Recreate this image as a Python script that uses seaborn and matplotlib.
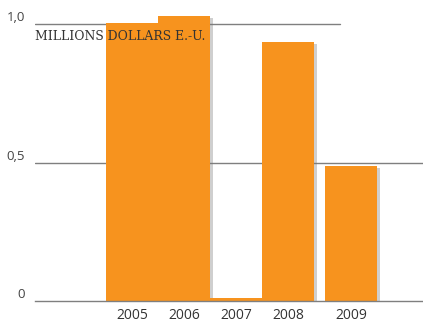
import matplotlib
matplotlib.use("Agg")
import matplotlib.pyplot as plt
import matplotlib.patheffects as pe
import seaborn as sns
import pandas as pd

# data
years = ["2005", "2006", "2007", "2008", "2009"]
values = [1.005, 1.03, 0.01, 0.935, 0.487]
# slot of each bar on the x axis (2009 set apart a little)
slots = [0, 1, 2, 3, 4.22]

y_ticks = [0, 0.5, 1.0]
y_labels = ["0", "0,5", "1,0"]

orange = "#F7931E"
grey_line = "#7f7f7f"

sns.set_theme(style="white")
plt.rcParams["font.family"] = ["Open Sans", "DejaVu Sans"]

df = pd.DataFrame({"slot": slots, "value": values})

fig = plt.figure(figsize=(4.23, 3.21), dpi=100)
ax = fig.add_axes([35 / 423, 20 / 321, 388 / 423, 301 / 321])

# gridlines
ax.axhline(0.5, color=grey_line, lw=1.0, zorder=0)
ax.axhline(1.0, xmax=(340 - 35) / 388, color=grey_line, lw=1.0, zorder=0)

sns.barplot(data=df, x="slot", y="value", native_scale=True, width=1.0,
            color=orange, saturation=1, ax=ax, zorder=2)
for p in ax.patches:
    p.set_edgecolor("none")
    p.set_path_effects([pe.SimplePatchShadow(offset=(2, -1.5), shadow_rgbFace="#777777",
                                             alpha=0.35), pe.Normal()])

ax.set_xlim(-1.865, 5.6)
ax.set_ylim(0, 301 / 277)

ax.set_xticks(slots)
ax.set_xticklabels(years, fontsize=10, color="#333333")
ax.set_yticks(y_ticks)
ax.set_yticklabels(y_labels, fontsize=9.5, color="#444444")
for lbl in ax.get_yticklabels():
    lbl.set_va("bottom")
ax.tick_params(axis="both", length=0)
ax.tick_params(axis="x", pad=5)
ax.tick_params(axis="y", pad=7)
ax.set_xlabel("")
ax.set_ylabel("")

for s in ["top", "right", "left"]:
    ax.spines[s].set_visible(False)
ax.spines["bottom"].set_color(grey_line)
ax.spines["bottom"].set_linewidth(1.0)

ax.text(0, 0.880, "MILLIONS DOLLARS E.-U.", transform=ax.transAxes,
        family="DejaVu Serif", fontsize=8.9, color="#333333",
        ha="left", va="center", zorder=5)

fig.savefig("out.png", dpi=100)
